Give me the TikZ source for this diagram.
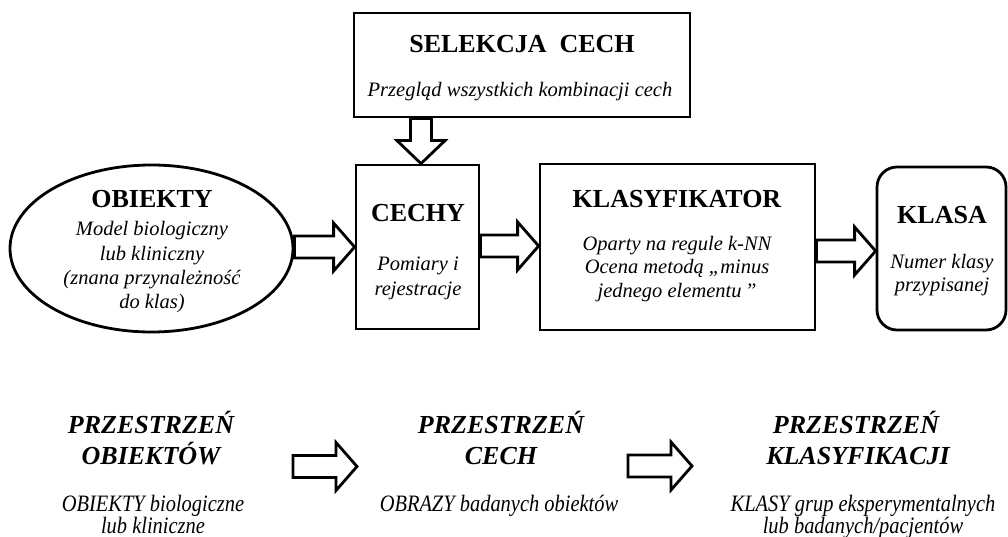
\documentclass[tikz,border=0pt]{standalone}
\usepackage{fontspec}
\setmainfont{Liberation Serif}
\newfontfamily\narrowserif[FakeStretch=0.87]{Liberation Serif}
\usetikzlibrary{shapes.geometric,calc}

\tikzset{
  frame/.style={draw, line width=2.8pt, fill=white, inner sep=0pt},
  title/.style={anchor=base, inner sep=0pt, font=\fontsize{26}{30}\selectfont\bfseries},
  body/.style={anchor=base, inner sep=0pt, font=\fontsize{20.5}{24}\selectfont\itshape},
  spacetitle/.style={anchor=base, inner sep=0pt, font=\fontsize{26}{30}\selectfont\bfseries\itshape},
  spacebody/.style={anchor=base, inner sep=0pt, font=\narrowserif\fontsize{23.5}{26}\selectfont\itshape},
  fatarrow/.style={draw, line width=2.8pt, fill=white, line join=miter},
}

% horizontal block arrow: tail point, tip point, y of its axis
\newcommand\harrow[3]{%
  \draw[fatarrow] let \p1=(#1), \p2=(#2) in
    (\x1,#3-11) -- (\x2-21,#3-11) -- (\x2-21,#3-24) -- (\x2,#3)
    -- (\x2-21,#3+24) -- (\x2-21,#3+11) -- (\x1,#3+11) -- cycle;}
% vertical (downward) block arrow: tail point, tip point, x of its axis
\newcommand\varrow[3]{%
  \draw[fatarrow] let \p1=(#1), \p2=(#2) in
    (#3-10.5,\y1) -- (#3-10.5,\y2+23) -- (#3-24,\y2+23) -- (#3,\y2)
    -- (#3+24,\y2+23) -- (#3+10.5,\y2+23) -- (#3+10.5,\y1) -- cycle;}

\begin{document}
\begin{tikzpicture}[x=1pt, y=-1pt]
  \useasboundingbox[fill=white] (0,0) rectangle (1008,537);

  % ---- blocks of the processing chain ----
  \node[frame, minimum width=336, minimum height=104] (sel) at (522,65) {};
  \node[frame, ellipse, minimum width=283, minimum height=167] (obj) at (151.5,248.5) {};
  \node[frame, minimum width=123, minimum height=164] (cechy) at (417.5,247) {};
  \node[frame, minimum width=275, minimum height=166] (klas) at (677.5,247) {};
  \node[frame, rounded corners=20pt, minimum width=129, minimum height=163] (klasa) at (941.5,248.5) {};

  % ---- texts inside the blocks ----
  \node[title] (selT) at (522,53) {SELEKCJA\ \ CECH};
  \node[body]  (selB) at (520,97) {Przegląd wszystkich kombinacji cech};

  \node[title] (objT) at (152,208) {OBIEKTY};
  \node[body]  (objB1) at (152,236) {Model biologiczny};
  \node[body]  (objB2) at (152,260) {lub kliniczny};
  \node[body]  (objB3) at (152,284) {(znana przynależność};
  \node[body]  (objB4) at (152,308) {do klas)};

  \node[title] (cechyT) at (418,222) {CECHY};
  \node[body]  (cechyB1) at (418,270) {Pomiary i};
  \node[body]  (cechyB2) at (418,295) {rejestracje};

  \node[title] (klasT) at (677,208) {KLASYFIKATOR};
  \node[body]  (klasB1) at (677,250) {Oparty na regule k-NN};
  \node[body]  (klasB2) at (677,273) {Ocena metodą „minus};
  \node[body]  (klasB3) at (677,297) {jednego elementu\,”};

  \node[title] (klasaT) at (942,223) {KLASA};
  \node[body]  (klasaB1) at (942,268) {Numer klasy};
  \node[body]  (klasaB2) at (942,291) {przypisanej};

  % ---- connectors between the blocks ----
  \varrow{sel.south}{cechy.north}{421}
  \harrow{obj.east}{cechy.west}{247}
  \harrow{cechy.east}{klas.west}{246}
  \harrow{klas.east}{klasa.west}{251}

  % ---- the three spaces ----
  \node[spacetitle] (s1a) at (151,433) {PRZESTRZEŃ};
  \node[spacetitle] (s1b) at (151,464) {OBIEKTÓW};
  \node[spacebody] (s1c) at (153,511) {OBIEKTY biologiczne};
  \node[spacebody] (s1d) at (153,533) {lub kliniczne};

  \node[spacetitle] (s2a) at (501,433) {PRZESTRZEŃ};
  \node[spacetitle] (s2b) at (501,464) {CECH};
  \node[spacebody] (s2c) at (499,511) {OBRAZY badanych obiektów};

  \node[spacetitle] (s3a) at (856,433) {PRZESTRZEŃ};
  \node[spacetitle] (s3b) at (858,464) {KLASYFIKACJI};
  \node[spacebody] (s3c) at (863,511) {KLASY grup eksperymentalnych};
  \node[spacebody] (s3d) at (863,533) {lub badanych/pacjentów};

  \coordinate (b1a) at (293,466.5);
  \coordinate (b1b) at (357,466.5);
  \coordinate (b2a) at (628,466);
  \coordinate (b2b) at (692,466);
  \harrow{b1a}{b1b}{466.5}
  \harrow{b2a}{b2b}{466}
\end{tikzpicture}
\end{document}
